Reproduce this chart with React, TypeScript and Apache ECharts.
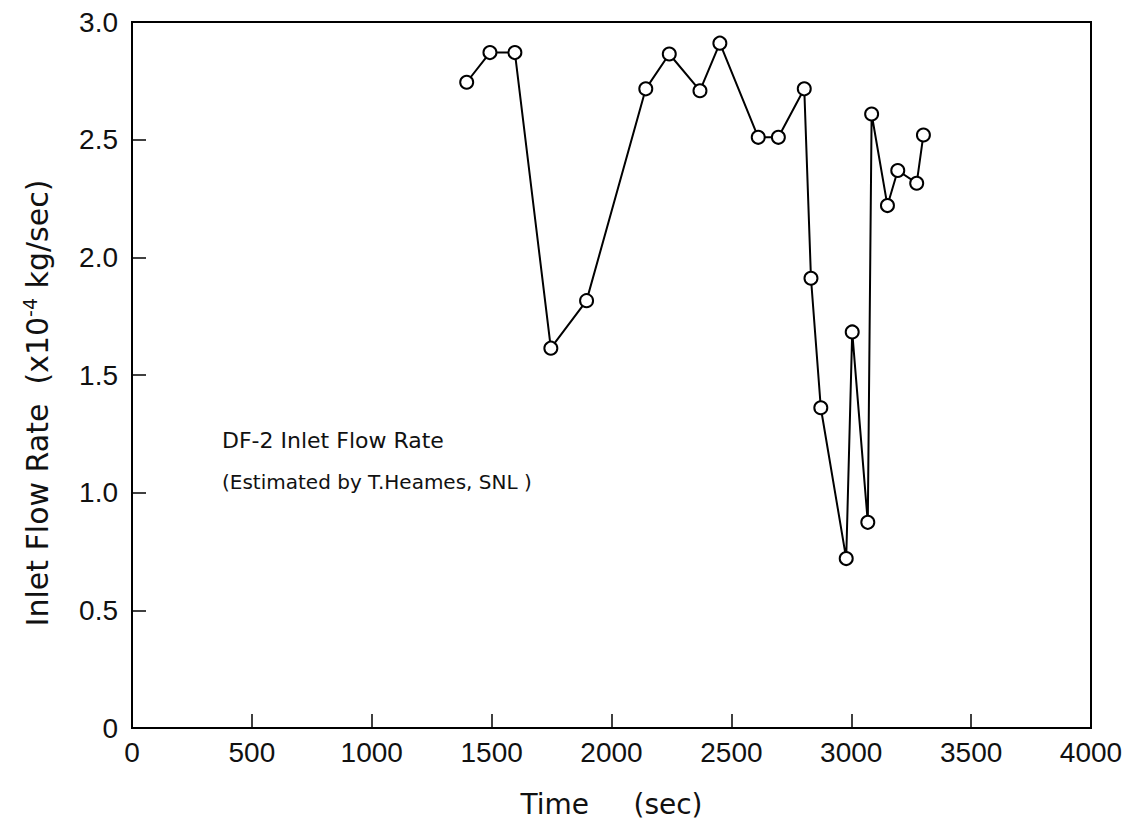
import React, { useEffect, useRef } from "react";
import * as echarts from "echarts";

const times = [1396, 1493, 1597, 1747, 1896, 2143, 2241, 2369, 2452, 2612, 2696, 2804, 2832, 2873, 2979, 3004, 3069, 3085, 3151, 3194, 3273, 3301];
const flow = [2.744, 2.87, 2.87, 1.614, 1.816, 2.716, 2.864, 2.708, 2.91, 2.51, 2.51, 2.716, 1.911, 1.361, 0.72, 1.683, 0.874, 2.609, 2.22, 2.369, 2.315, 2.52];

const xTitle = "Time     (sec)";
const noteLine1 = "DF-2 Inlet Flow Rate";
const noteLine2 = "(Estimated by T.Heames, SNL )";

const FONT = "'Liberation Sans', Arial, sans-serif";
const FONT2 = "'DejaVu Sans', sans-serif";

export default function App() {
  const ref = useRef<HTMLDivElement>(null);
  useEffect(() => {
    if (!ref.current) return;
    const chart = echarts.init(ref.current, null, { renderer: "svg" });
    chart.setOption({
      animation: false,
      backgroundColor: "#ffffff",
      grid: {
        left: 132,
        top: 22,
        width: 959,
        height: 706,
        show: true,
        borderColor: "#000",
        borderWidth: 2,
        backgroundColor: "transparent",
      },
      xAxis: {
        type: "value",
        min: 0,
        max: 4000,
        interval: 500,
        name: xTitle,
        nameLocation: "middle",
        nameGap: 62,
        nameTextStyle: { fontFamily: FONT2, fontSize: 28, color: "#111" },
        axisLine: { show: true, lineStyle: { color: "#000", width: 2 } },
        axisTick: { show: true, inside: true, length: 14, lineStyle: { color: "#000", width: 1.5 } },
        axisLabel: { fontFamily: FONT, fontSize: 28, color: "#111", margin: 10, formatter: (v: number) => String(v) },
        splitLine: { show: false },
      },
      yAxis: {
        type: "value",
        min: 0,
        max: 3,
        interval: 0.5,
        axisLine: { show: true, lineStyle: { color: "#000", width: 2 } },
        axisTick: { show: true, inside: true, length: 14, lineStyle: { color: "#000", width: 1.5 } },
        axisLabel: {
          fontFamily: FONT,
          fontSize: 28,
          color: "#111",
          margin: 14,
          formatter: (v: number) => (v === 0 ? "0" : v.toFixed(1)),
        },
        splitLine: { show: false },
      },
      graphic: [
        {
          type: "text",
          x: 37,
          y: 403,
          rotation: Math.PI / 2,
          style: {
            text: "{n|Inlet Flow Rate  (x10}{s|-4}{n| kg/sec)}",
            align: "center",
            verticalAlign: "middle",
            rich: {
              n: { fontFamily: FONT2, fontSize: 30, fill: "#111" },
              s: { fontFamily: FONT2, fontSize: 19, fill: "#111", verticalAlign: "top", padding: [0, 0, 14, 0] },
            },
          },
        },
        {
          type: "text",
          x: 222,
          y: 440,
          style: { text: noteLine1, fontFamily: FONT2, fontSize: 22, fill: "#111", verticalAlign: "middle" },
        },
        {
          type: "text",
          x: 222,
          y: 482,
          style: { text: noteLine2, fontFamily: FONT2, fontSize: 20, fill: "#111", verticalAlign: "middle" },
        },
      ],
      series: [
        {
          type: "line",
          data: times.map((t, i) => [t, flow[i]]),
          symbol: "circle",
          symbolSize: 13,
          showSymbol: true,
          lineStyle: { color: "#000", width: 2 },
          itemStyle: { color: "#fff", borderColor: "#000", borderWidth: 2 },
          z: 3,
        },
      ],
    });
    return () => chart.dispose();
  }, []);
  return (
    <div
      ref={ref}
      style={{ position: "fixed", left: 0, top: 0, width: 1129, height: 829, background: "#fff" }}
    />
  );
}
